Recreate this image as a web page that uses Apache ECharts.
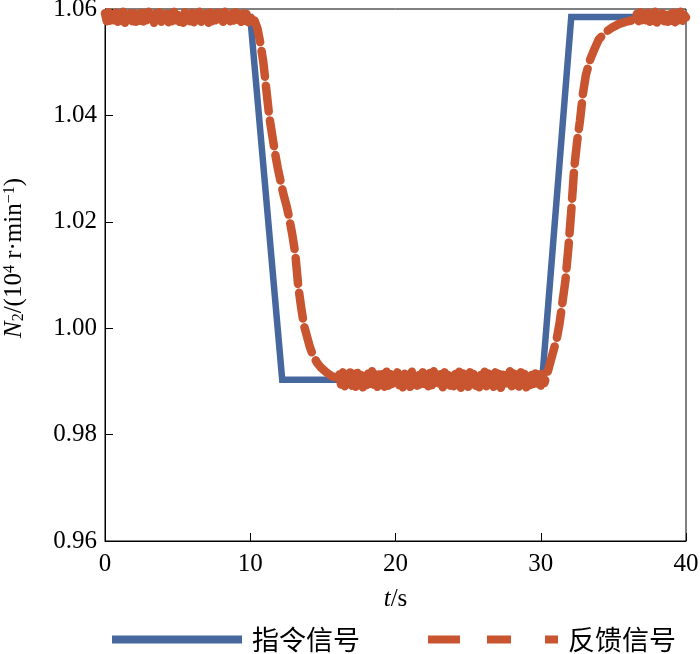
<!DOCTYPE html>
<html>
<head>
<meta charset="utf-8">
<script src="https://cdn.jsdelivr.net/npm/echarts@6/dist/echarts.min.js"></script>
<style>html,body{margin:0;padding:0;background:#fff;}#c{width:700px;height:654px;}</style>
</head>
<body>
<div id="c"></div>
<script>
// Command signal (指令信号): [time s, N2]
const cmdTime  = [0, 10.0, 12.2, 30.1, 32.1, 40];
const cmdValue = [1.0585, 1.0585, 0.9903, 0.9903, 1.0585, 1.0585];

const fbTime = [
  0,0.125,0.25,0.375,0.5,0.625,0.75,0.875,1,1.125,1.25,1.375,1.5,1.625,1.75,1.875,
  2,2.125,2.25,2.375,2.5,2.625,2.75,2.875,3,3.125,3.25,3.375,3.5,3.625,3.75,3.875,
  4,4.125,4.25,4.375,4.5,4.625,4.75,4.875,5,5.125,5.25,5.375,5.5,5.625,5.75,5.875,
  6,6.125,6.25,6.375,6.5,6.625,6.75,6.875,7,7.125,7.25,7.375,7.5,7.625,7.75,7.875,
  8,8.125,8.25,8.375,8.5,8.625,8.75,8.875,9,9.125,9.25,9.375,9.5,9.625,9.75,9.875,10,10.125,
  10.3,10.5,10.7,10.9,11.1,11.3,11.5,11.7,11.9,12.1,12.3,12.5,12.7,12.9,13.1,13.3,13.5,13.7,13.9,
  14.1,14.3,14.6,14.9,15.2,15.6,16.0,
  16.125,16.25,16.375,16.5,16.625,16.75,16.875,17,17.125,17.25,17.375,17.5,17.625,17.75,17.875,18,
  18.125,18.25,18.375,18.5,18.625,18.75,18.875,19,19.125,19.25,19.375,19.5,19.625,19.75,19.875,20,
  20.125,20.25,20.375,20.5,20.625,20.75,20.875,21,21.125,21.25,21.375,21.5,21.625,21.75,21.875,22,
  22.125,22.25,22.375,22.5,22.625,22.75,22.875,23,23.125,23.25,23.375,23.5,23.625,23.75,23.875,24,
  24.125,24.25,24.375,24.5,24.625,24.75,24.875,25,25.125,25.25,25.375,25.5,25.625,25.75,25.875,26,
  26.125,26.25,26.375,26.5,26.625,26.75,26.875,27,27.125,27.25,27.375,27.5,27.625,27.75,27.875,28,
  28.125,28.25,28.375,28.5,28.625,28.75,28.875,29,29.125,29.25,29.375,29.5,29.625,29.75,29.875,30,
  30.125,30.25,
  30.5,30.7,30.9,31.1,31.3,31.5,31.7,31.9,32.1,32.3,32.5,32.7,32.9,33.1,33.4,33.7,34.0,34.4,34.9,35.4,36.0,36.5,
  36.625,36.75,36.875,37,37.125,37.25,37.375,37.5,37.625,37.75,37.875,38,
  38.125,38.25,38.375,38.5,38.625,38.75,38.875,39,39.125,39.25,39.375,39.5,39.625,39.75,39.875,40
];
const fbValue = [
  1.0592,1.0577,1.0594,1.0575,1.0590,1.0579,1.0593,1.0576,1.0591,1.0578,
  1.0595,1.0574,1.0589,1.0580,1.0592,1.0577,1.0594,1.0576,1.0590,1.0578,
  1.0593,1.0575,1.0591,1.0579,1.0595,1.0577,1.0589,1.0574,1.0592,1.0578,
  1.0594,1.0576,1.0590,1.0580,1.0593,1.0575,1.0591,1.0577,1.0595,1.0579,
  1.0589,1.0576,1.0592,1.0574,1.0594,1.0578,1.0590,1.0577,1.0593,1.0575,
  1.0591,1.0580,1.0595,1.0576,1.0589,1.0578,1.0592,1.0574,1.0594,1.0577,
  1.0590,1.0579,1.0593,1.0575,1.0591,1.0576,1.0595,1.0578,1.0589,1.0577,
  1.0592,1.0574,1.0594,1.0580,1.0590,1.0576,1.0593,1.0578,1.0591,1.0575,
  1.0589,1.0580,
  1.0578,1.0563,1.0535,1.0500,1.0450,1.0400,1.0365,1.0330,1.0300,1.0275,1.0250,1.0230,1.0205,1.0175,1.0140,1.0080,1.0040,1.0005,0.9985,
  0.9965,0.9950,0.9935,0.9925,0.9918,0.9910,0.9906,
  0.9915,0.9894,0.9917,0.9891,0.9913,0.9896,0.9918,0.9892,0.9914,0.9890,
  0.9916,0.9895,0.9912,0.9889,0.9917,0.9893,0.9915,0.9891,0.9919,0.9894,
  0.9913,0.9890,0.9916,0.9896,0.9914,0.9888,0.9918,0.9892,0.9915,0.9895,
  0.9912,0.9891,0.9917,0.9893,0.9914,0.9889,0.9916,0.9896,0.9913,0.9890,
  0.9918,0.9894,0.9915,0.9892,0.9912,0.9888,0.9917,0.9895,0.9914,0.9891,
  0.9916,0.9893,0.9919,0.9890,0.9913,0.9896,0.9915,0.9889,0.9917,0.9894,
  0.9912,0.9892,0.9916,0.9891,0.9914,0.9895,0.9918,0.9888,0.9915,0.9893,
  0.9913,0.9890,0.9917,0.9896,0.9914,0.9892,0.9916,0.9889,0.9912,0.9894,
  0.9918,0.9891,0.9915,0.9895,0.9913,0.9890,0.9917,0.9893,0.9914,0.9888,
  0.9916,0.9896,0.9912,0.9892,0.9919,0.9891,0.9915,0.9894,0.9913,0.9890,
  0.9917,0.9895,0.9914,0.9889,0.9916,0.9893,0.9912,0.9891,0.9915,0.9896,
  0.9913,0.9892,0.9914,0.9897,
  0.9920,0.9940,0.9960,0.9980,1.0010,1.0050,1.0090,1.0150,1.0220,1.0300,1.0350,1.0390,1.0440,1.0475,1.0505,1.0525,1.0543,1.0555,1.0565,1.0572,1.0577,1.0580,
  1.0591,1.0577,1.0594,1.0575,1.0590,1.0579,1.0593,1.0576,1.0592,1.0578,
  1.0595,1.0574,1.0589,1.0580,1.0592,1.0577,1.0594,1.0576,1.0590,1.0578,
  1.0593,1.0575,1.0591,1.0579,1.0595,1.0577,1.0589,1.0584
];

const xTicks = [0, 10, 20, 30, 40];
const yTicks = [0.96, 0.98, 1.00, 1.02, 1.04, 1.06];
const seriesNames = ['指令信号', '反馈信号'];

const cmdData = cmdTime.map((t, i) => [t, cmdValue[i]]);
const fbData = fbTime.map((t, i) => [t, fbValue[i]]);

const BLUE = '#46689f';
const ORANGE = '#c8552f';
const serif = '"Liberation Serif","Times New Roman",serif';

const chart = echarts.init(document.getElementById('c'), null, {renderer: 'canvas'});
chart.setOption({
  animation: false,
  backgroundColor: '#fff',
  grid: {left: 105, right: 14, top: 9, bottom: 113, show: true, borderColor: '#000', borderWidth: 1,
         containLabel: false, outerBoundsMode: 'none'},
  xAxis: {
    type: 'value', min: xTicks[0], max: xTicks[xTicks.length - 1], interval: 10,
    axisLine: {lineStyle: {color: '#000', width: 1}},
    axisTick: {inside: true, length: 8, lineStyle: {color: '#000'}},
    splitLine: {show: false},
    axisLabel: {color: '#000', fontFamily: serif, fontSize: 25, margin: 11},
    name: '{i|t}{n|/s}', nameLocation: 'middle', nameGap: 46,
    nameTextStyle: {rich: {
      i: {fontFamily: serif, fontStyle: 'italic', fontSize: 25, color: '#000'},
      n: {fontFamily: serif, fontSize: 25, color: '#000'}
    }}
  },
  yAxis: {
    type: 'value', min: yTicks[0], max: yTicks[yTicks.length - 1], interval: 0.02,
    axisLine: {lineStyle: {color: '#000', width: 1}},
    axisTick: {inside: true, length: 8, lineStyle: {color: '#000'}},
    splitLine: {show: false},
    axisLabel: {color: '#000', fontFamily: serif, fontSize: 25, margin: 8, formatter: v => v.toFixed(2)},
    name: '{i|N}{sub|2}{n|/(10}{sup|4}{n| r·min}{sup|−1}{n|)}', nameLocation: 'middle', nameGap: 76,
    nameTextStyle: {padding: [0, 0, 0, 34], rich: {
      i: {fontFamily: serif, fontStyle: 'italic', fontSize: 25, color: '#000', lineHeight: 30, verticalAlign: 'middle'},
      n: {fontFamily: serif, fontSize: 25, color: '#000', lineHeight: 30, verticalAlign: 'middle'},
      sub: {fontFamily: serif, fontSize: 16, color: '#000', lineHeight: 30, verticalAlign: 'bottom', padding: [0, 0, 2, 0]},
      sup: {fontFamily: serif, fontSize: 16, color: '#000', lineHeight: 30, verticalAlign: 'top', padding: [3, 0, 0, 0]}
    }}
  },
  legend: {
    left: 107, bottom: -4, itemWidth: 130, itemHeight: 16, itemGap: 68,
    textStyle: {fontFamily: '"Noto Sans CJK SC",sans-serif', fontSize: 27, color: '#000', padding: [0, 0, 0, 5]},
    data: [
      {name: seriesNames[0], icon: 'path://M0,0 L130,0 L130,8 L0,8 Z', itemStyle: {color: BLUE}},
      {name: seriesNames[1], icon: 'path://M0,0 L32,0 L32,8 L0,8 Z M59,0 L83,0 L83,8 L59,8 Z M117,0 L130,0 L130,8 L117,8 Z', itemStyle: {color: ORANGE}}
    ]
  },
  series: [
    {
      name: seriesNames[0], type: 'line', data: cmdData, showSymbol: false, symbol: 'none',
      lineStyle: {color: BLUE, width: 6.5, join: 'miter'}, itemStyle: {color: BLUE}, z: 2
    },
    {
      name: seriesNames[1], type: 'line', data: fbData, showSymbol: false, symbol: 'none',
      lineStyle: {color: ORANGE, width: 8.5, type: [26, 9], cap: 'round', join: 'round'}, itemStyle: {color: ORANGE}, z: 3
    }
  ]
});
</script>
</body>
</html>
